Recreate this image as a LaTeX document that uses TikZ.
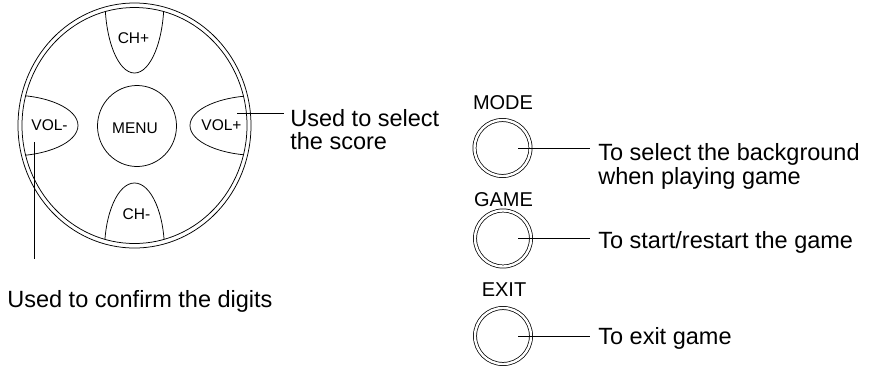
\documentclass[tikz,border=0pt]{standalone}
\usepackage{fontspec}
\setmainfont{Liberation Sans}
\usetikzlibrary{shapes.geometric}
\begin{document}
\begin{tikzpicture}[x=1pt,y=-1pt, line width=0.75pt,
  big/.style={font=\fontsize{23.5}{28}\selectfont, inner sep=0pt, anchor=base west},
  small/.style={font=\fontsize{15.5}{18}\selectfont, inner sep=0pt},
  lbl/.style={font=\fontsize{20}{24}\selectfont, inner sep=0pt},
  btn/.style={circle, draw, double, double distance=2.4pt, minimum size=56pt, inner sep=0pt}]
\useasboundingbox (0,0) rectangle (875,368);

% remote pad
\draw (134.5,125.5) ellipse [x radius=116.5pt, y radius=122.5pt];
\draw (134.5,125.5) ellipse [x radius=112.5pt, y radius=118pt];
\begin{scope}
  \clip (134.5,125.5) ellipse [x radius=112.5pt, y radius=118pt];
  \draw (134.5,0) ellipse [x radius=29.5pt, y radius=73pt];
  \draw (134.5,251) ellipse [x radius=30pt, y radius=68pt];
  \draw (10,125.5) ellipse [x radius=68pt, y radius=30.5pt];
  \draw (259,125.5) ellipse [x radius=69pt, y radius=30pt];
\end{scope}
\node[draw, ellipse, minimum width=79pt, minimum height=81pt, inner sep=0pt] (menuc) at (137,126) {};

\node[small] (chp) at (133.5,38) {CH+};
\node[small] (chm) at (136.5,214) {CH-};
\node[small] (volm) at (49.5,125) {VOL-};
\node[small] (volp) at (221.5,125) {VOL+};
\node[small] (menu) at (135,128) {MENU};

% left annotations
\coordinate (c1) at (34,142);
\coordinate (c2) at (34,259);
\draw (c1) -- (c2);
\node[big] (confirm) at (7,307) {Used to confirm the digits};

\coordinate (s1) at (237,113);
\coordinate (s2) at (284,113);
\draw (s1) -- (s2);
\node[big] (score1) at (290,126) {Used to select};
\node[big] (score2) at (290,149) {the score};

% right buttons
\node[lbl] (model) at (503,103) {MODE};
\node[btn] (mode) at (502.5,148) {};
\coordinate (m1) at (518,148);
\coordinate (m2) at (590,148);
\draw (m1) -- (m2);
\node[big] (modet1) at (598,160) {To select the background};
\node[big] (modet2) at (598,184) {when playing game};

\node[lbl] (gamel) at (503.5,199.5) {GAME};
\node[btn] (game) at (503,238.5) {};
\coordinate (g1) at (518,238.5);
\coordinate (g2) at (590,238.5);
\draw (g1) -- (g2);
\node[big] (gamet) at (598,248) {To start/restart the game};

\node[lbl] (exitl) at (504,289.5) {EXIT};
\node[btn] (exit) at (503,336) {};
\coordinate (e1) at (518,336);
\coordinate (e2) at (590,336);
\draw (e1) -- (e2);
\node[big] (exitt) at (598,344) {To exit game};
\end{tikzpicture}
\end{document}
